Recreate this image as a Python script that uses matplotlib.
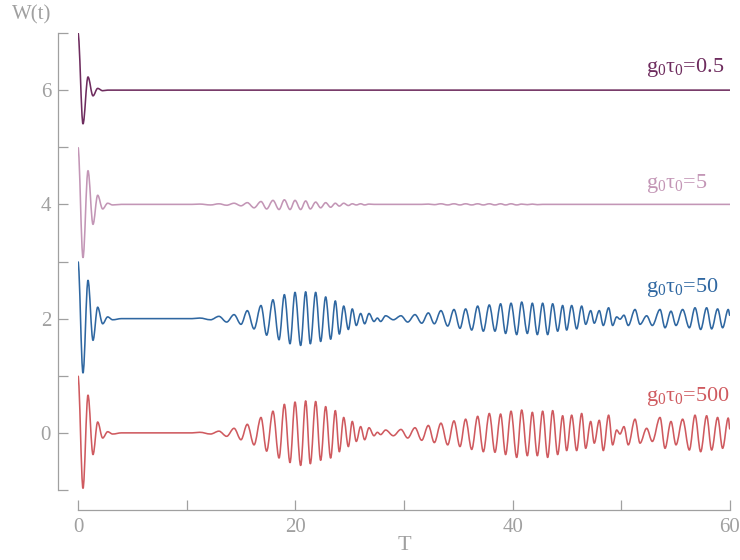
import numpy as np
import matplotlib
matplotlib.use("Agg")
import matplotlib.pyplot as plt
from matplotlib.path import Path
from matplotlib.patches import PathPatch

plt.rcParams["font.family"] = "Liberation Serif"
plt.rcParams["mathtext.fontset"] = "custom"
plt.rcParams["mathtext.rm"] = "Liberation Serif"
plt.rcParams["mathtext.it"] = "Liberation Serif"

# atomic inversion W(t), extrema read along T for each coupling g0*tau0
t_head = [0.0, 0.46, 0.92, 1.38, 1.81, 2.27, 2.73, 3.19, 4.0, 10.5]
w05_head = [1.0, -0.59, 0.23, -0.10, 0.03, -0.01, 0.0, 0.0, 0.0, 0.0]
w5_head = [1.0, -0.93, 0.59, -0.35, 0.16, -0.08, 0.02, -0.01, 0.0, 0.0]
w50_head = [1.0, -0.95, 0.67, -0.38, 0.20, -0.09, 0.03, -0.02, 0.0, 0.0]
w500_head = [1.0, -0.97, 0.66, -0.38, 0.19, -0.09, 0.02, -0.02, 0.0, 0.0]

t_rev = [11.2, 12.2, 12.97, 13.68, 14.36, 15.0, 15.58, 16.2, 16.84, 17.36,
         17.94, 18.5, 18.99, 19.51, 19.97, 20.49, 20.95, 21.38, 21.87, 22.33,
         22.79, 23.25, 23.68, 24.05, 24.45, 24.88, 25.24, 25.61, 26.01, 26.38,
         26.78, 27.24, 27.55, 27.85, 28.31, 29.02, 29.72, 30.34, 31.01, 31.63,
         32.24, 32.79, 33.4, 34.02, 34.6, 35.15, 35.67, 36.23, 36.78, 37.3,
         37.85, 38.37, 38.89, 39.35, 39.85, 40.37, 40.83, 41.35, 41.81, 42.27,
         42.76, 43.22, 43.68, 44.14, 44.6, 44.97, 45.43, 45.89, 46.35, 46.72,
         47.18, 47.51, 47.97, 48.34, 48.83, 49.2, 49.57, 49.88, 50.24, 50.64,
         51.26, 51.72, 52.33, 52.85, 53.56, 54.02, 54.57, 55.03, 55.64, 56.26,
         56.78, 57.3, 57.85, 58.31, 58.86, 59.32, 59.84, 60.0]

w05_rev = [0.0] * len(t_rev)

w5_rev = [0.005, -0.01, 0.01, -0.015, 0.02, -0.025, 0.03, -0.06, 0.05, -0.08,
          0.07, -0.09, 0.08, -0.09, 0.07, -0.09, 0.06, -0.08, 0.04, -0.06,
          0.03, -0.05, 0.02, -0.03, 0.02, -0.02, 0.01, -0.01, 0.01, -0.01,
          0.005, 0.0, 0.0, 0.0, 0.0, 0.0, 0.0, 0.0, 0.0, 0.0,
          0.005, -0.005, 0.01, -0.01, 0.01, -0.01, 0.01, -0.01, 0.01, -0.01,
          0.01, -0.01, 0.01, -0.01, 0.01, -0.01, 0.005, -0.005, 0.005, -0.005,
          0.0, 0.0, 0.0, 0.0, 0.0, 0.0, 0.0, 0.0, 0.0, 0.0,
          0.0, 0.0, 0.0, 0.0, 0.0, 0.0, 0.0, 0.0, 0.0, 0.0,
          0.0, 0.0, 0.0, 0.0, 0.0, 0.0, 0.0, 0.0, 0.0, 0.0,
          0.0, 0.0, 0.0, 0.0, 0.0, 0.0, 0.0, 0.0]

w50_rev = [0.01, -0.02, 0.04, -0.06, 0.07, -0.10, 0.14, -0.18, 0.23, -0.29,
           0.33, -0.37, 0.42, -0.44, 0.46, -0.47, 0.47, -0.44, 0.46, -0.40,
           0.38, -0.36, 0.31, -0.27, 0.22, -0.19, 0.17, -0.12, 0.09, -0.09,
           0.09, -0.05, 0.01, -0.05, 0.05, -0.02, 0.05, -0.06, 0.07, -0.08,
           0.10, -0.09, 0.14, -0.13, 0.16, -0.17, 0.17, -0.20, 0.22, -0.22,
           0.24, -0.22, 0.26, -0.26, 0.27, -0.28, 0.29, -0.26, 0.27, -0.28,
           0.27, -0.28, 0.26, -0.22, 0.23, -0.20, 0.23, -0.18, 0.22, -0.10,
           0.14, -0.08, 0.14, -0.12, 0.19, -0.12, 0.03, -0.01, 0.06, -0.12,
           0.16, -0.10, 0.05, -0.12, 0.16, -0.16, 0.13, -0.12, 0.16, -0.16,
           0.19, -0.19, 0.19, -0.18, 0.17, -0.16, 0.16, 0.05]

w500_rev = [0.01, -0.02, 0.03, -0.06, 0.08, -0.12, 0.15, -0.21, 0.27, -0.32,
            0.38, -0.44, 0.50, -0.52, 0.54, -0.57, 0.56, -0.54, 0.55, -0.48,
            0.46, -0.44, 0.39, -0.33, 0.27, -0.24, 0.20, -0.15, 0.11, -0.12,
            0.09, -0.05, 0.01, -0.03, 0.05, -0.05, 0.06, -0.09, 0.09, -0.13,
            0.13, -0.17, 0.17, -0.21, 0.21, -0.24, 0.24, -0.29, 0.29, -0.33,
            0.34, -0.34, 0.33, -0.38, 0.38, -0.43, 0.40, -0.40, 0.36, -0.40,
            0.38, -0.43, 0.39, -0.38, 0.30, -0.31, 0.31, -0.31, 0.34, -0.27,
            0.20, -0.18, 0.22, -0.31, 0.31, -0.21, 0.05, -0.02, 0.11, -0.21,
            0.24, -0.18, 0.08, -0.15, 0.27, -0.27, 0.20, -0.21, 0.24, -0.30,
            0.31, -0.33, 0.30, -0.30, 0.27, -0.27, 0.26, 0.06]

labels = [r"$\mathrm{g}_0\tau_0$=0.5", r"$\mathrm{g}_0\tau_0$=5",
          r"$\mathrm{g}_0\tau_0$=50", r"$\mathrm{g}_0\tau_0$=500"]
offsets = [6, 4, 2, 0]
label_y = [6.31, 4.28, 2.47, 0.56]
colors = ["#6e2c5e", "#c396b6", "#2f67a1", "#cf5a5f"]
series = [(w05_head, w05_rev), (w5_head, w5_rev),
          (w50_head, w50_rev), (w500_head, w500_rev)]

grey = "#a0a0a0"


def wave_path(t, w, k=0.35):
    # smooth curve through the extrema: flat tangent at every turning point
    verts = [(t[0], w[0])]
    codes = [Path.MOVETO]
    for i in range(len(t) - 1):
        dt = t[i + 1] - t[i]
        verts += [(t[i] + k * dt, w[i]), (t[i + 1] - k * dt, w[i + 1]),
                  (t[i + 1], w[i + 1])]
        codes += [Path.CURVE4] * 3
    return Path(verts, codes)


fig = plt.figure(figsize=(7.4, 5.6), dpi=100)
ax = fig.add_axes([78 / 740, 70 / 560, 652 / 740, 457 / 560])

t_all = np.array(t_head + t_rev)
for (head, rev), off, col, lab, ly in zip(series, offsets, colors, labels, label_y):
    w = np.array(head + rev) + off
    ax.add_patch(PathPatch(wave_path(t_all, w), facecolor="none",
                           edgecolor=col, lw=1.15, joinstyle="round"))
    ax.text(52.3, ly, lab, color=col, fontsize=16, ha="left", va="baseline")

ax.set_xlim(0, 60)
ax.set_ylim(-1, 7)

for s in ["top", "right"]:
    ax.spines[s].set_visible(False)
for s in ["left", "bottom"]:
    ax.spines[s].set_position(("outward", 14.4))
    ax.spines[s].set_color(grey)
    ax.spines[s].set_linewidth(0.9)
ax.spines["left"].set_bounds(-1, 7)
ax.spines["bottom"].set_bounds(0, 60)

ax.set_xticks(range(0, 61, 10))
ax.set_xticklabels(["0", "", "20", "", "40", "", "60"])
ax.set_yticks(range(-1, 8))
ax.set_yticklabels(["", "0", "", "2", "", "4", "", "6", ""])
ax.tick_params(direction="in", length=7, width=0.9, color=grey,
               labelcolor=grey, labelsize=15)
ax.tick_params(axis="x", pad=6)
ax.tick_params(axis="y", pad=5)

fig.text(12 / 740, 1 - 15 / 560, "W(t)", color=grey, fontsize=15,
         ha="left", va="center")
fig.text(404 / 740, 1 - 546 / 560, "T", color=grey, fontsize=16,
         ha="center", va="center")

fig.savefig("out.png", dpi=100)
